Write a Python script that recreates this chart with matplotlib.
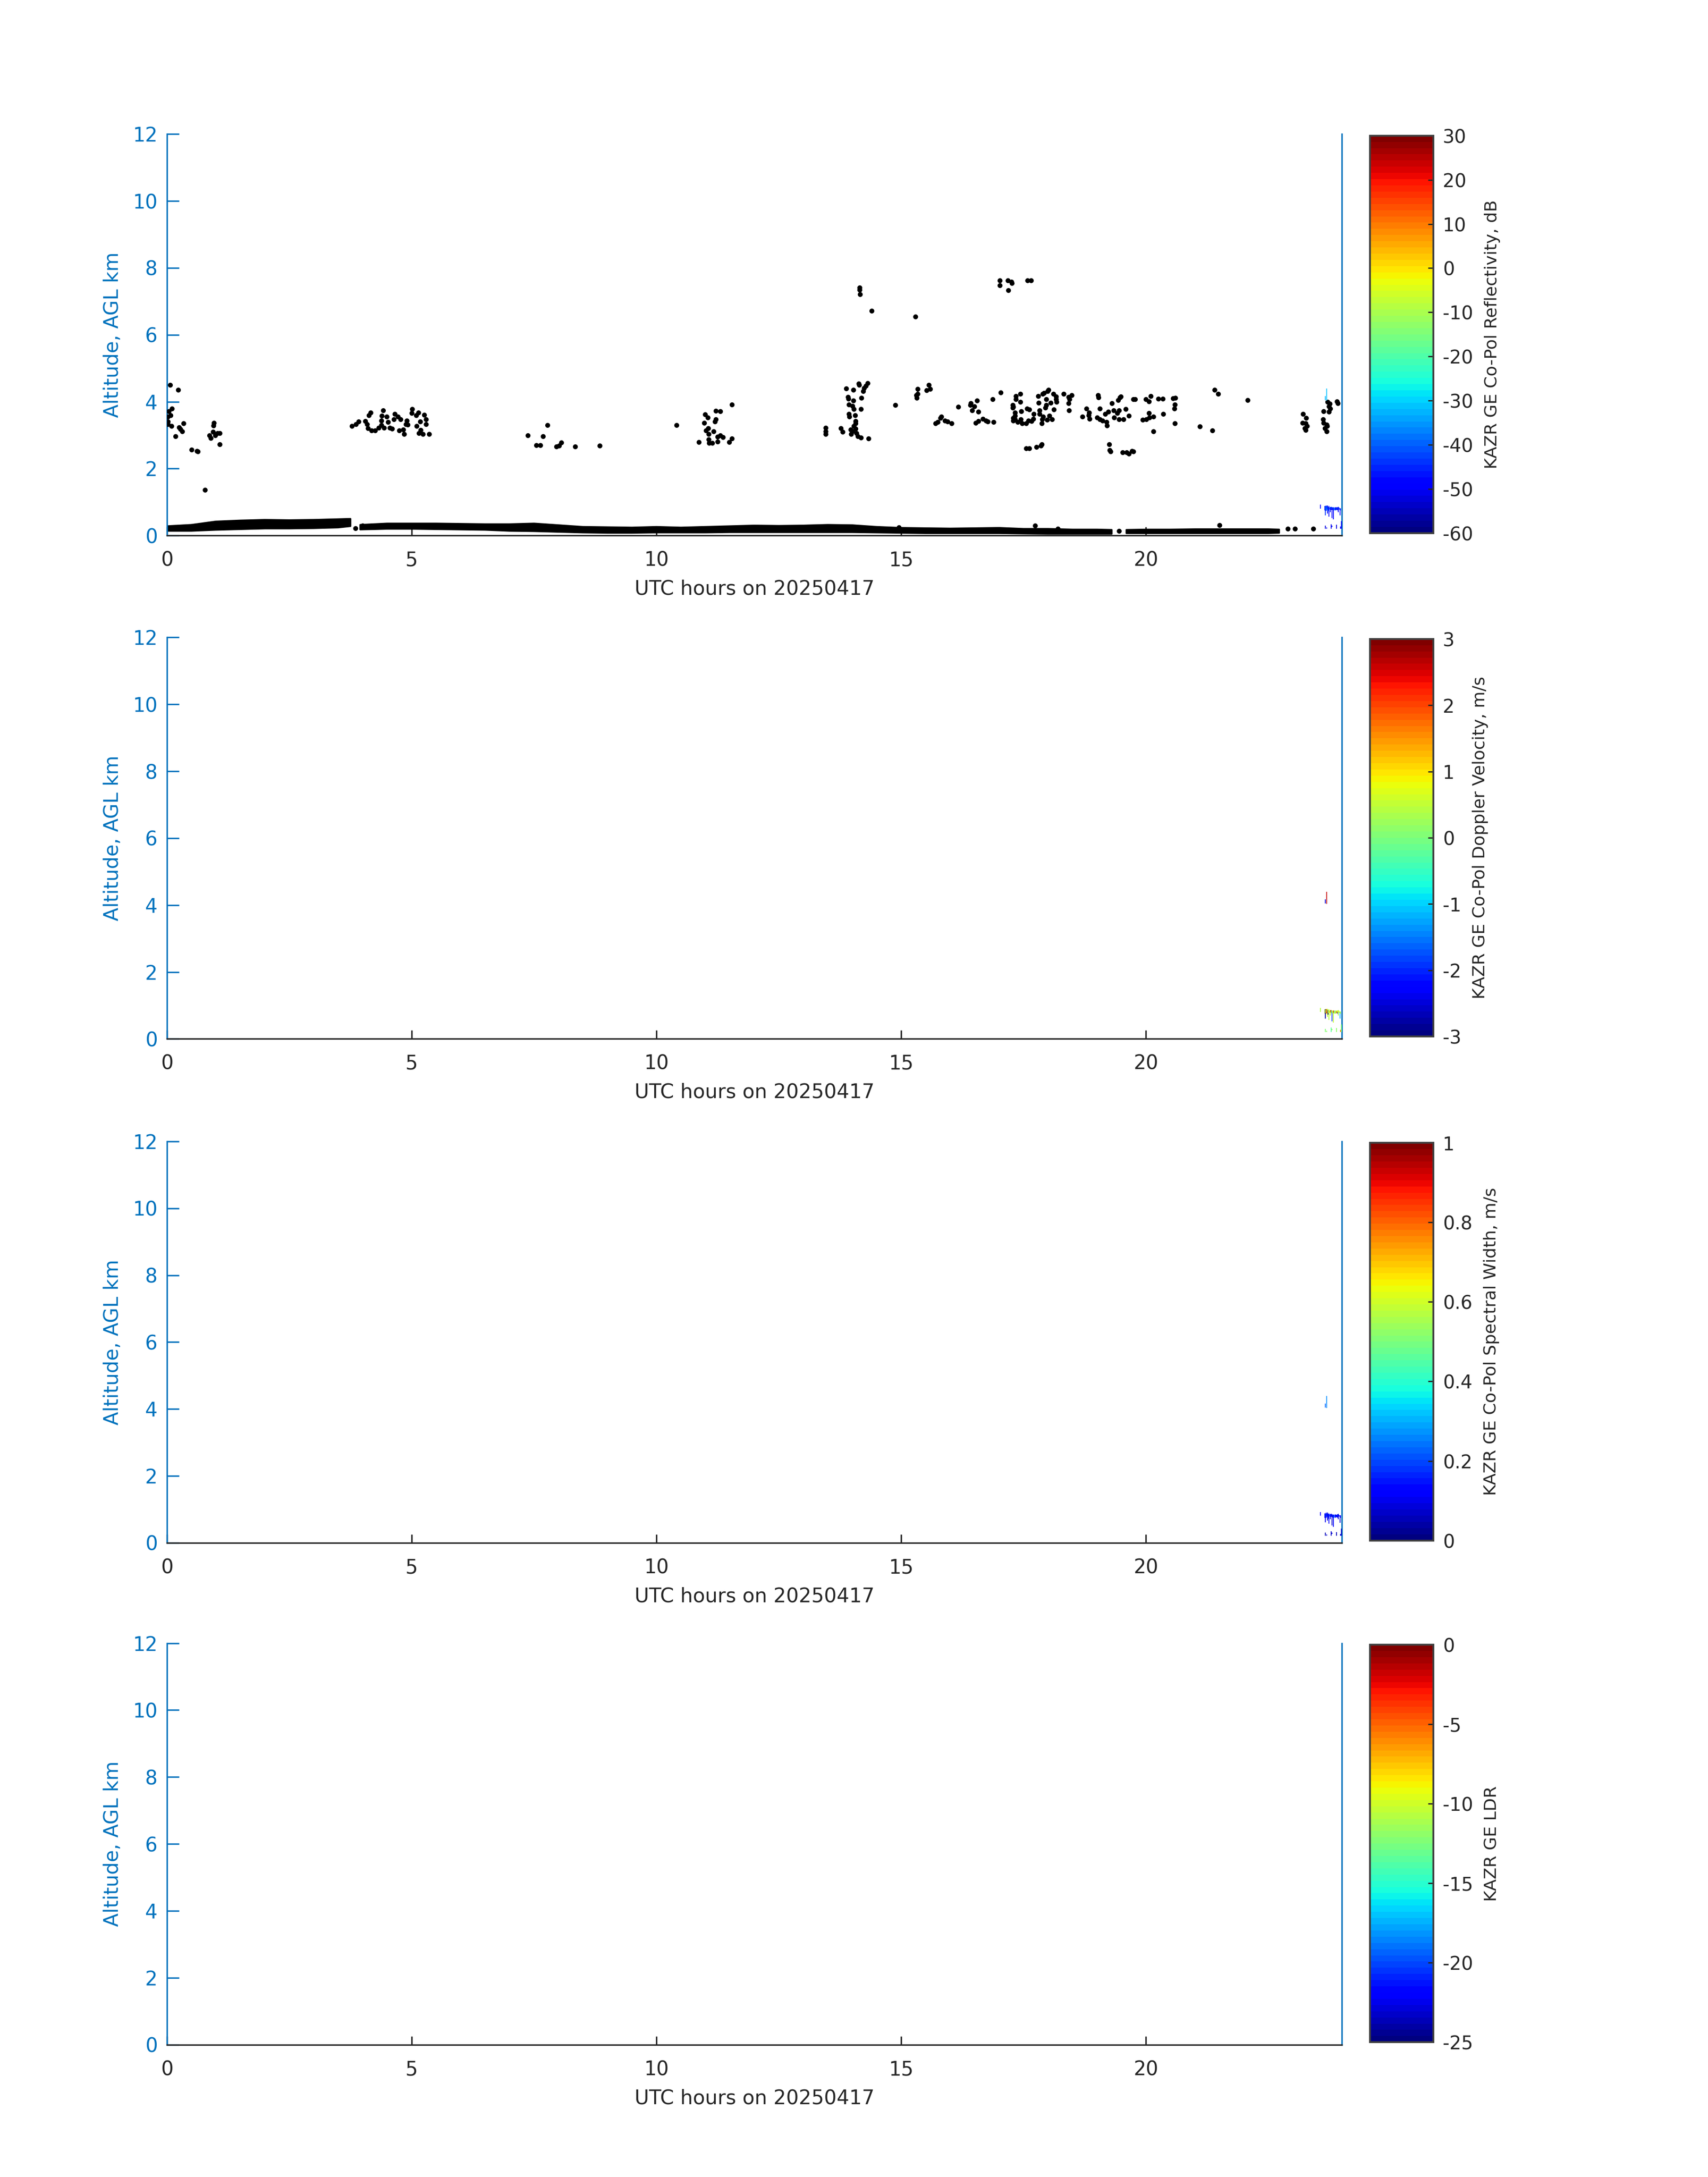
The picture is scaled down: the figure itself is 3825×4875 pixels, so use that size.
import numpy as np
import matplotlib
matplotlib.use("Agg")
import matplotlib.pyplot as plt
from matplotlib.colors import Normalize
from matplotlib.cm import ScalarMappable

# ---------------- data ----------------
date_str = "20250417"
x_ticks = [0, 5, 10, 15, 20]
y_ticks = [0, 2, 4, 6, 8, 10, 12]

# isolated hydrometeor echoes (shown black in reflectivity panel): time (h), altitude (km)
echo_t = [0.07, 0.23, 0.10, 0.04, 0.08, 0.02, 0.02, 0.02, 0.09, 0.18, 0.25, 0.28, 0.31, 0.34, 0.50,
          0.61, 0.63, 0.78, 0.96, 0.95, 0.87, 0.90, 0.94, 0.99, 1.03, 1.08, 1.08,
          3.78, 3.86, 3.92, 4.05, 4.09, 4.11, 4.18, 4.25, 4.13, 4.16, 4.33, 4.38, 4.44, 4.39, 4.42,
          4.38, 4.49, 4.52, 4.55, 4.60, 4.65, 4.64, 4.72, 4.77, 4.75, 4.83, 4.85, 4.88, 4.90, 4.92,
          5.01, 5.00, 5.09, 5.14, 5.10, 5.17, 5.26, 5.29, 5.29, 5.15, 5.23, 5.36, 5.18,
          7.37, 7.77, 7.68, 7.55, 7.63, 7.96, 8.01, 8.06, 8.34, 8.84, 10.41, 10.87, 10.99, 11.05,
          10.98, 11.01, 11.06, 11.07, 11.07, 11.08, 11.14, 11.21, 11.30, 11.21, 11.19, 11.17, 11.25,
          11.30, 11.36, 11.25, 11.49, 11.54, 11.54,
          14.15, 14.15, 14.16, 14.40, 15.29, 17.01, 17.01, 17.18, 17.26, 17.19,
          13.46, 13.46, 13.46, 13.77, 13.80, 13.88, 14.02, 14.13, 14.14, 14.22, 14.24, 14.28, 14.31,
          14.19, 13.91, 13.92, 14.02, 13.93, 14.00, 14.03, 14.18, 13.93, 13.94, 14.06, 14.07, 14.07,
          14.03, 14.07, 13.97, 14.00, 13.98, 14.09, 14.11, 14.18, 14.33, 14.88, 15.31, 15.34, 15.32,
          15.34, 15.52, 15.56, 15.59, 15.70, 15.75, 15.80, 15.82, 15.89, 15.95, 16.03, 16.17, 16.41,
          16.42, 16.49, 16.45, 16.58, 16.55, 16.52, 16.58, 16.67, 16.73, 16.77, 16.89, 16.87, 17.03,
          17.29, 17.29, 17.29,
          17.25, 17.58, 17.65, 17.34, 17.34, 17.43, 17.43, 17.28, 17.28, 17.32, 17.32, 17.32, 17.38,
          17.44, 17.47, 17.55, 17.60, 17.66, 17.70, 17.45, 17.57, 17.62, 17.71, 17.80, 17.81, 17.89,
          17.92, 17.99, 18.01, 17.96, 17.96, 17.94, 17.83, 17.83, 17.90, 17.88, 17.87, 17.98, 18.03,
          18.08, 18.05, 18.12, 18.11, 18.16, 18.16, 18.17, 18.32, 18.42, 18.44, 18.48, 18.42, 18.43,
          17.55, 17.62, 17.76, 17.85, 17.87,
          18.70, 18.78, 18.84, 18.85, 18.83, 19.02, 19.03, 19.06, 19.00, 19.06, 19.11, 19.17, 19.20,
          19.19, 19.23, 19.30, 19.34, 19.35, 19.45, 19.41, 19.45, 19.54, 19.59, 19.65, 19.43, 19.47,
          19.49, 19.25, 19.26, 19.28, 19.52, 19.60, 19.65, 19.71, 19.74, 19.74, 19.78, 19.93, 20.01,
          20.07, 20.15, 20.06, 20.00, 20.10, 20.06, 20.15, 20.25, 20.34, 20.35, 20.55, 20.60, 20.59,
          20.58, 20.59, 21.10, 21.36, 21.40, 21.47, 22.08,
          23.21, 23.27, 23.20, 23.26, 23.29, 23.24, 23.26, 23.63, 23.62, 23.63, 23.69, 23.70, 23.65,
          23.69, 23.71, 23.75, 23.74, 23.76, 23.74, 23.90, 23.92,
          3.85, 4.00, 14.95, 17.73, 18.20, 19.45, 21.50, 22.90, 23.04, 23.42]
echo_alt = [4.50, 4.36, 3.79, 3.71, 3.60, 3.55, 3.41, 3.33, 3.28, 2.97, 3.24, 3.18, 3.12, 3.35, 2.56,
            2.53, 2.51, 1.37, 3.37, 3.29, 2.99, 2.91, 3.10, 3.00, 3.06, 3.06, 2.72,
            3.28, 3.33, 3.41, 3.42, 3.33, 3.21, 3.14, 3.14, 3.59, 3.67, 3.22, 3.30, 3.22, 3.58, 3.74,
            3.44, 3.55, 3.39, 3.22, 3.19, 3.64, 3.47, 3.55, 3.47, 3.14, 3.17, 3.04, 3.33, 3.44, 3.31,
            3.78, 3.66, 3.59, 3.68, 3.28, 3.41, 3.61, 3.48, 3.33, 3.06, 3.04, 3.03, 3.15,
            3.00, 3.30, 2.97, 2.70, 2.70, 2.66, 2.68, 2.78, 2.66, 2.68, 3.30, 2.79, 3.62, 3.53,
            3.37, 3.14, 3.21, 3.03, 2.87, 2.77, 2.76, 3.73, 3.71, 3.48, 3.41, 3.11, 2.95,
            3.00, 2.94, 2.80, 2.79, 2.90, 3.92,
            7.41, 7.35, 7.21, 6.72, 6.54, 7.63, 7.48, 7.63, 7.55, 7.33,
            3.22, 3.11, 3.04, 3.21, 3.10, 4.39, 4.35, 4.54, 4.50, 4.31, 4.41, 4.47, 4.56,
            4.11, 4.14, 4.09, 4.04, 3.91, 3.87, 3.78, 3.78, 3.64, 3.55, 3.59, 3.42, 3.36,
            3.28, 3.19, 3.17, 3.11, 3.03, 3.06, 2.97, 2.93, 2.90, 3.90, 4.20, 4.23, 4.11,
            4.38, 4.34, 4.50, 4.38, 3.36, 3.39, 3.52, 3.55, 3.44, 3.41, 3.36, 3.85, 3.90,
            3.96, 3.86, 3.74, 3.70, 4.04, 3.37, 3.42, 3.49, 3.44, 3.41, 3.40, 4.08, 4.28,
            3.85, 3.52, 3.44,
            7.58, 7.63, 7.63, 4.17, 4.07, 4.23, 4.00, 3.90, 3.82, 3.68, 3.58, 3.48, 3.39,
            3.47, 3.36, 3.36, 3.44, 3.42, 3.49, 3.71, 3.79, 3.77, 3.64, 4.17, 3.97, 4.24,
            4.26, 4.31, 4.35, 4.07, 3.90, 3.82, 3.74, 3.63, 3.55, 3.47, 3.36, 3.46, 3.58,
            3.47, 3.97, 3.77, 4.24, 4.16, 4.07, 4.00, 4.24, 4.14, 4.07, 4.20, 3.96, 3.74,
            2.60, 2.60, 2.65, 2.69, 2.72,
            3.56, 3.79, 3.68, 3.49, 3.60, 4.20, 4.13, 3.79, 3.53, 3.47, 3.44, 3.63, 3.29,
            3.39, 3.70, 3.96, 3.74, 3.53, 3.74, 3.66, 3.48, 3.47, 3.78, 3.58, 4.05, 4.13,
            4.16, 2.72, 2.55, 2.51, 2.49, 2.49, 2.44, 2.52, 2.51, 4.07, 4.07, 3.46, 3.47,
            3.53, 3.56, 3.66, 4.07, 4.17, 4.01, 3.11, 4.09, 4.09, 3.64, 4.10, 4.11, 3.91,
            3.80, 3.36, 3.26, 3.14, 4.36, 4.24, 4.05,
            3.63, 3.51, 3.37, 3.35, 3.28, 3.21, 3.16, 3.71, 3.48, 3.37, 3.32, 3.27, 3.21,
            3.12, 3.99, 3.94, 3.86, 3.79, 3.70, 4.01, 3.95,
            0.22, 0.30, 0.25, 0.30, 0.20, 0.14, 0.31, 0.21, 0.21, 0.21]

# near-surface clutter layer: time (h), lower / upper edge (km); NaN = gap
band_t = [0.0, 0.5, 1.0, 1.5, 2.0, 2.5, 3.0, 3.5, 3.75, 3.85, 3.95, 4.5, 5.0, 5.5, 6.0, 6.5, 7.0,
          7.5, 8.0, 8.5, 9.0, 9.5, 10.0, 10.5, 11.0, 11.5, 12.0, 12.5, 13.0, 13.5, 14.0, 14.5,
          15.0, 15.5, 16.0, 16.5, 17.0, 17.5, 18.0, 18.5, 19.0, 19.3, 19.45, 19.6, 20.0, 20.5,
          21.0, 21.5, 22.0, 22.5, 22.72]
band_lo = [0.14, 0.14, 0.17, 0.19, 0.21, 0.21, 0.22, 0.24, 0.28, np.nan, 0.18, 0.20, 0.20, 0.19,
           0.18, 0.17, 0.14, 0.13, 0.11, 0.09, 0.08, 0.08, 0.09, 0.09, 0.09, 0.10, 0.10, 0.10,
           0.10, 0.10, 0.10, 0.09, 0.08, 0.07, 0.07, 0.07, 0.07, 0.06, 0.05, 0.05, 0.05, 0.05,
           np.nan, 0.07, 0.07, 0.07, 0.07, 0.07, 0.07, 0.07, 0.08]
band_hi = [0.28, 0.32, 0.42, 0.45, 0.47, 0.46, 0.47, 0.49, 0.50, np.nan, 0.32, 0.36, 0.36, 0.36,
           0.35, 0.34, 0.34, 0.36, 0.31, 0.26, 0.25, 0.24, 0.26, 0.24, 0.26, 0.28, 0.30, 0.29,
           0.30, 0.32, 0.31, 0.26, 0.23, 0.22, 0.21, 0.22, 0.23, 0.20, 0.20, 0.18, 0.18, 0.17,
           np.nan, 0.17, 0.18, 0.18, 0.19, 0.19, 0.19, 0.19, 0.18]

# colour-coded radar gates near the end of the day (vertical streaks)
seg_t = [23.56, 23.65, 23.66, 23.67, 23.68, 23.69, 23.70, 23.71, 23.72, 23.73, 23.74, 23.75,
         23.76, 23.77, 23.78, 23.79, 23.80, 23.81, 23.82, 23.83, 23.84, 23.85, 23.86, 23.87,
         23.88, 23.89, 23.90, 23.91, 23.92, 23.93, 23.94, 23.95, 23.96, 23.97,
         23.66, 23.69, 23.78, 23.80, 23.89, 23.97, 23.99,
         23.69, 23.66]
seg_lo = [0.81, 0.75, 0.61, 0.78, 0.74, 0.77, 0.80, 0.66, 0.72, 0.76, 0.57, 0.78,
          0.70, 0.79, 0.77, 0.80, 0.52, 0.76, 0.79, 0.48, 0.78, 0.75, 0.77, 0.75,
          0.78, 0.77, 0.76, 0.78, 0.75, 0.70, 0.79, 0.78, 0.60, 0.75,
          0.21, 0.21, 0.21, 0.26, 0.21, 0.21, 0.21,
          4.03, 4.05]
seg_hi = [0.92, 0.88, 0.88, 0.87, 0.90, 0.88, 0.88, 0.90, 0.86, 0.86, 0.88, 0.85,
          0.84, 0.86, 0.85, 0.86, 0.84, 0.84, 0.85, 0.82, 0.84, 0.83, 0.85, 0.84,
          0.84, 0.82, 0.84, 0.85, 0.81, 0.86, 0.84, 0.83, 0.81, 0.82,
          0.30, 0.25, 0.34, 0.30, 0.32, 0.27, 0.43,
          4.39, 4.17]
refl_vals = [-48, -46, -44, -38, -47, -35, -45, -48, -40, -46, -49, -36,
             -47, -44, -48, -39, -50, -46, -42, -49, -45, -37, -47, -44,
             -48, -46, -43, -47, -45, -49, -41, -46, -50, -44,
             -52, -50, -51, -48, -52, -50, -49,
             -31, -33]
vel_vals = [0.4, 0.6, -2.8, 0.5, 1.1, 2.6, 0.3, 0.5, -2.9, 0.7, 0.4, 1.2,
            0.5, 2.7, 0.3, 0.6, -1.8, 0.4, 1.0, 0.5, 2.8, 0.3, -0.4, 0.6,
            0.5, 2.5, 0.4, 1.1, -2.6, 0.3, 0.5, 0.8, -1.2, 0.4,
            0.0, 0.1, -0.2, 0.2, 0.1, 1.5, 0.0,
            2.6, -2.5]
width_vals = [0.12, 0.15, 0.10, 0.18, 0.13, 0.20, 0.12, 0.08, 0.15, 0.11, 0.14, 0.22,
              0.13, 0.10, 0.16, 0.12, 0.07, 0.14, 0.18, 0.11, 0.13, 0.24, 0.12, 0.15,
              0.10, 0.14, 0.12, 0.17, 0.11, 0.09, 0.15, 0.13, 0.08, 0.14,
              0.06, 0.08, 0.07, 0.09, 0.06, 0.08, 0.07,
              0.28, 0.22]

panels = [
    ("KAZR GE Co-Pol Reflectivity, dB", -60, 30, [30, 20, 10, 0, -10, -20, -30, -40, -50, -60]),
    ("KAZR GE Co-Pol Doppler Velocity, m/s", -3, 3, [3, 2, 1, 0, -1, -2, -3]),
    ("KAZR GE Co-Pol Spectral Width, m/s", 0, 1, [1, 0.8, 0.6, 0.4, 0.2, 0]),
    ("KAZR GE LDR", -25, 0, [0, -5, -10, -15, -20, -25]),
]
panel_vals = [refl_vals, vel_vals, width_vals, None]

# ---------------- styling ----------------
BLUE = "#0072BD"
DARK = "#262626"
cmap = plt.get_cmap("jet", 64)

fig = plt.figure(figsize=(12.75, 16.25), dpi=300)
ax_left, ax_w, ax_h = 0.0977, 0.6879, 0.1844
bottoms = [0.7540, 0.5228, 0.2913, 0.0608]
cb_left, cb_w, cb_h = 0.8021, 0.0371, 0.1826

for i, ((clabel, vmin, vmax, cticks), vals, b) in enumerate(zip(panels, panel_vals, bottoms)):
    ax = fig.add_axes([ax_left, b, ax_w, ax_h])
    norm = Normalize(vmin=vmin, vmax=vmax)

    if i == 0:
        ax.fill_between(band_t, band_lo, band_hi, color="k", edgecolor="k", linewidth=0.9, zorder=2)
        ax.scatter(echo_t, echo_alt, s=7, c="k", linewidths=0, zorder=3)
    if vals is not None:
        lc = ax.vlines(seg_t, seg_lo, seg_hi, cmap=cmap, norm=norm, linewidth=0.45, zorder=4)
        lc.set_array(np.array(vals, dtype=float))

    ax.set_xlim(0, 24)
    ax.set_ylim(0, 12)
    ax.set_xticks(x_ticks)
    ax.set_yticks(y_ticks)
    for s in ("left", "right"):
        ax.spines[s].set_color(BLUE)
        ax.spines[s].set_linewidth(0.8)
    ax.spines["top"].set_visible(False)
    ax.spines["bottom"].set_color(DARK)
    ax.spines["bottom"].set_linewidth(0.8)
    ax.tick_params(axis="y", direction="in", length=6.5, width=0.8, color=BLUE,
                   labelcolor=BLUE, labelsize=10.5, pad=5, right=False)
    ax.tick_params(axis="x", direction="in", length=4.5, width=0.8, color=DARK,
                   labelcolor=DARK, labelsize=10.5, pad=8.3, top=False)
    ax.set_ylabel("Altitude, AGL km", color=BLUE, fontsize=10.6, labelpad=5.5)
    ax.set_xlabel("UTC hours on " + date_str, color=DARK, fontsize=10.7, labelpad=5.0)

    cax = fig.add_axes([cb_left, b + 0.0011, cb_w, cb_h])
    sm = ScalarMappable(norm=norm, cmap=cmap)
    cb = fig.colorbar(sm, cax=cax)
    cb.set_ticks(cticks)
    cb.set_ticklabels([f"{v:g}" for v in cticks])
    cb.outline.set_edgecolor("#404040")
    cb.outline.set_linewidth(1.0)
    cax.tick_params(direction="in", length=2.8, width=0.7, color=DARK, labelcolor=DARK,
                    labelsize=10, pad=5)
    cb.set_label(clabel, fontsize=9.2, color=DARK, labelpad=6)

fig.savefig("out.png", dpi=300, facecolor="white")
